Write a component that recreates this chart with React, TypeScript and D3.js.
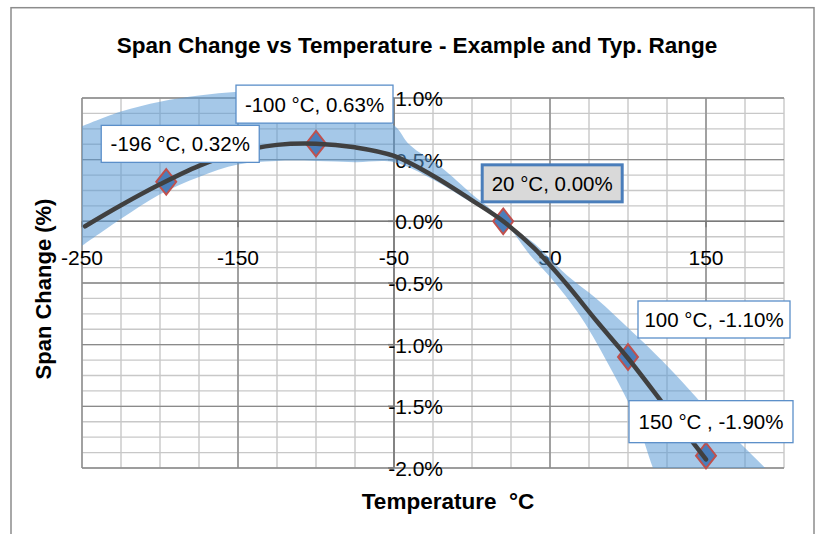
import * as React from 'react';
import { useRef, useEffect } from 'react';
import * as d3 from 'd3';

const WIDTH = 830;
const HEIGHT = 534;

// measured example points
const pointTemps = [-196, -100, 20, 100, 150];
const pointChanges = [0.32, 0.63, 0.0, -1.1, -1.9];
const pointLabels = ['-196 °C, 0.32%', '-100 °C, 0.63%', '20 °C, 0.00%', '100 °C, -1.10%', '150 °C , -1.90%'];

// example curve
const curveTemps = [-248, -225, -200, -175, -150, -125, -100, -75, -50, -25, 0, 20, 40, 60, 80, 100, 125, 150];
const curveChanges = [-0.04, 0.13, 0.30, 0.45, 0.56, 0.62, 0.63, 0.60, 0.53, 0.37, 0.17, 0.0, -0.22, -0.50, -0.81, -1.11, -1.52, -1.93];

// typical range band
const bandUpperTemps = [-250, -225, -200, -175, -150, -125, -100, -75, -50, -40, -20, 0, 10, 20, 40, 61, 80, 103, 125, 155, 188, 200];
const bandUpper = [0.77, 0.89, 0.97, 1.02, 1.05, 1.06, 1.03, 0.92, 0.78, 0.62, 0.44, 0.22, 0.12, 0.0, -0.18, -0.44, -0.63, -0.90, -1.17, -1.58, -2.0, -2.15];
const bandLowerTemps = [-250, -225, -200, -175, -150, -125, -100, -75, -50, -25, 0, 20, 37, 50, 70, 90, 105, 116, 125];
const bandLower = [-0.20, 0.02, 0.22, 0.36, 0.46, 0.49, 0.49, 0.48, 0.48, 0.34, 0.15, 0.0, -0.27, -0.45, -0.78, -1.22, -1.60, -2.0, -2.3];

// axis ticks
const xTicks = [-250, -150, -50, 50, 150];
const yTicks = [1.0, 0.5, 0.0, -0.5, -1.0, -1.5, -2.0];

// label box layout: offset of box centre from marker, box size
const labelLayout = [
  { dx: 14, dy: -38, w: 158, h: 37 },
  { dx: -1.5, dy: -39.5, w: 157, h: 38 },
  { dx: 49, dy: -38, w: 140, h: 37 },
  { dx: 86, dy: -37.5, w: 152, h: 37 },
  { dx: 5, dy: -34, w: 164, h: 42 },
];

const FONT = '"Liberation Sans", Arial, sans-serif';

// excel style: plain hyphen for negatives
const hyphen = (s: string) => s.replace('\u2212', '-');

const App = () => {
  const svgRef = useRef<SVGSVGElement>(null);

  useEffect(() => {
    const svg = d3.select(svgRef.current);
    svg.selectAll('*').remove();

    const left = 82, right = 784, top = 98, bottom = 468;
    const x = d3.scaleLinear().domain([-250, 200]).range([left, right]);
    const y = d3.scaleLinear().domain([-2, 1]).range([bottom, top]);

    svg.append('rect').attr('width', WIDTH).attr('height', HEIGHT).attr('fill', '#fff');
    svg.append('rect')
      .attr('x', 11).attr('y', 7.7).attr('width', 803).attr('height', 560)
      .attr('fill', 'none').attr('stroke', '#8c8c8c').attr('stroke-width', 1.5);

    const defs = svg.append('defs');
    defs.append('clipPath').attr('id', 'plot-clip')
      .append('rect').attr('x', left).attr('y', top - 20).attr('width', right - left).attr('height', bottom - top + 20);

    // gridlines
    const grid = svg.append('g');
    const minorX = d3.range(-250, 200.1, 25);
    const minorY = d3.range(-2, 1.001, 0.125);
    grid.selectAll('line.mx').data(minorX).join('line')
      .attr('x1', d => x(d)).attr('x2', d => x(d)).attr('y1', top).attr('y2', bottom)
      .attr('stroke', '#c8c8c8').attr('stroke-width', 1.4);
    grid.selectAll('line.my').data(minorY).join('line')
      .attr('y1', d => y(d)).attr('y2', d => y(d)).attr('x1', left).attr('x2', right)
      .attr('stroke', '#c8c8c8').attr('stroke-width', 1.4);
    const majorX = d3.range(-250, 200.1, 100);
    const majorY = d3.range(-2, 1.001, 0.5);
    grid.append('g').selectAll('line').data(majorX).join('line')
      .attr('x1', d => x(d)).attr('x2', d => x(d)).attr('y1', top).attr('y2', bottom)
      .attr('stroke', '#8a8a8a').attr('stroke-width', 1.4);
    grid.append('g').selectAll('line').data(majorY).join('line')
      .attr('y1', d => y(d)).attr('y2', d => y(d)).attr('x1', left).attr('x2', right)
      .attr('stroke', '#8a8a8a').attr('stroke-width', 1.4);

    // axes crossing at (-50, 0)
    svg.append('line').attr('x1', left).attr('x2', right).attr('y1', y(0)).attr('y2', y(0))
      .attr('stroke', '#7a7a7a').attr('stroke-width', 1.5);
    svg.append('line').attr('x1', x(-50)).attr('x2', x(-50)).attr('y1', top).attr('y2', bottom)
      .attr('stroke', '#7a7a7a').attr('stroke-width', 1.5);
    svg.append('g').selectAll('line').data(yTicks).join('line')
      .attr('x1', x(-50) - 6).attr('x2', x(-50)).attr('y1', d => y(d)).attr('y2', d => y(d))
      .attr('stroke', '#7a7a7a').attr('stroke-width', 1.5);
    svg.append('g').selectAll('line').data(xTicks).join('line')
      .attr('x1', d => x(d)).attr('x2', d => x(d)).attr('y1', y(0)).attr('y2', y(0) + 6)
      .attr('stroke', '#7a7a7a').attr('stroke-width', 1.5);

    // tick labels
    svg.append('g').selectAll('text').data(xTicks).join('text')
      .attr('x', d => x(d)).attr('y', y(0) + 44)
      .attr('text-anchor', 'middle')
      .style('font-family', FONT).style('font-size', '21px').attr('fill', '#000')
      .text(d => hyphen(d3.format('d')(d)));
    svg.append('g').selectAll('text').data(yTicks).join('text')
      .attr('x', 443).attr('y', d => y(d) + 8)
      .attr('text-anchor', 'end')
      .style('font-family', FONT).style('font-size', '21px').attr('fill', '#000')
      .text(d => hyphen(d3.format('.1f')(d)) + '%');

    // typical range band
    const pts = (xs: number[], ys: number[]) => xs.map((t, i) => [x(t), y(ys[i])] as [number, number]);
    const smooth = d3.line().curve(d3.curveCatmullRom.alpha(0.5));
    const upperPts = pts(bandUpperTemps, bandUpper);
    const lowerPts = pts(bandLowerTemps, bandLower).reverse();
    const bandPath = smooth(upperPts) + 'L' + (smooth(lowerPts) as string).slice(1) + 'Z';
    svg.append('path')
      .attr('d', bandPath)
      .attr('clip-path', 'url(#plot-clip)')
      .attr('fill', '#5b9bd5').attr('fill-opacity', 0.55);

    // markers
    const diamond = d3.symbol().type(d3.symbolDiamond).size(190);
    svg.append('g').selectAll('path').data(pointTemps).join('path')
      .attr('transform', (d, i) => `translate(${x(d)},${y(pointChanges[i])}) scale(1.35,1)`)
      .attr('d', diamond() as string)
      .attr('fill', '#4a7ebb').attr('stroke', '#c0504d').attr('stroke-width', 1.6);

    // example curve
    svg.append('path')
      .attr('d', smooth(pts(curveTemps, curveChanges)) as string)
      .attr('fill', 'none').attr('stroke', '#404040').attr('stroke-width', 4.5)
      .attr('stroke-linecap', 'round');

    // data labels
    const labels = svg.append('g');
    pointTemps.forEach((t, i) => {
      const L = labelLayout[i];
      const cx = x(t) + L.dx;
      const cy = y(pointChanges[i]) + L.dy;
      const highlighted = pointChanges[i] === 0;
      labels.append('rect')
        .attr('x', cx - L.w / 2).attr('y', cy - L.h / 2).attr('width', L.w).attr('height', L.h)
        .attr('fill', highlighted ? '#d9d9d9' : '#fff')
        .attr('stroke', highlighted ? '#4a7ebb' : '#5b8fc9')
        .attr('stroke-width', highlighted ? 3 : 1.3);
      labels.append('text')
        .attr('x', cx).attr('y', cy + 7.5)
        .attr('text-anchor', 'middle')
        .style('font-family', FONT).style('font-size', '20.5px').attr('fill', '#000')
        .text(pointLabels[i]);
    });

    // titles
    svg.append('text')
      .attr('x', 417).attr('y', 52.7).attr('text-anchor', 'middle')
      .style('font-family', FONT).style('font-size', '22.5px').style('font-weight', 'bold')
      .attr('fill', '#000')
      .text('Span Change vs Temperature - Example and Typ. Range');
    svg.append('text')
      .attr('x', 448).attr('y', 509).attr('text-anchor', 'middle')
      .style('font-family', FONT).style('font-size', '22.5px').style('font-weight', 'bold')
      .style('white-space', 'pre')
      .attr('fill', '#000')
      .text('Temperature  °C');
    svg.append('text')
      .attr('transform', 'translate(51,289) rotate(-90)')
      .attr('text-anchor', 'middle')
      .style('font-family', FONT).style('font-size', '22px').style('font-weight', 'bold')
      .attr('fill', '#000')
      .text('Span Change (%)');
  }, []);

  return (
    <svg
      ref={svgRef}
      width={WIDTH}
      height={HEIGHT}
      style={{ position: 'absolute', left: 0, top: 0, display: 'block' }}
    />
  );
};

export default App;
